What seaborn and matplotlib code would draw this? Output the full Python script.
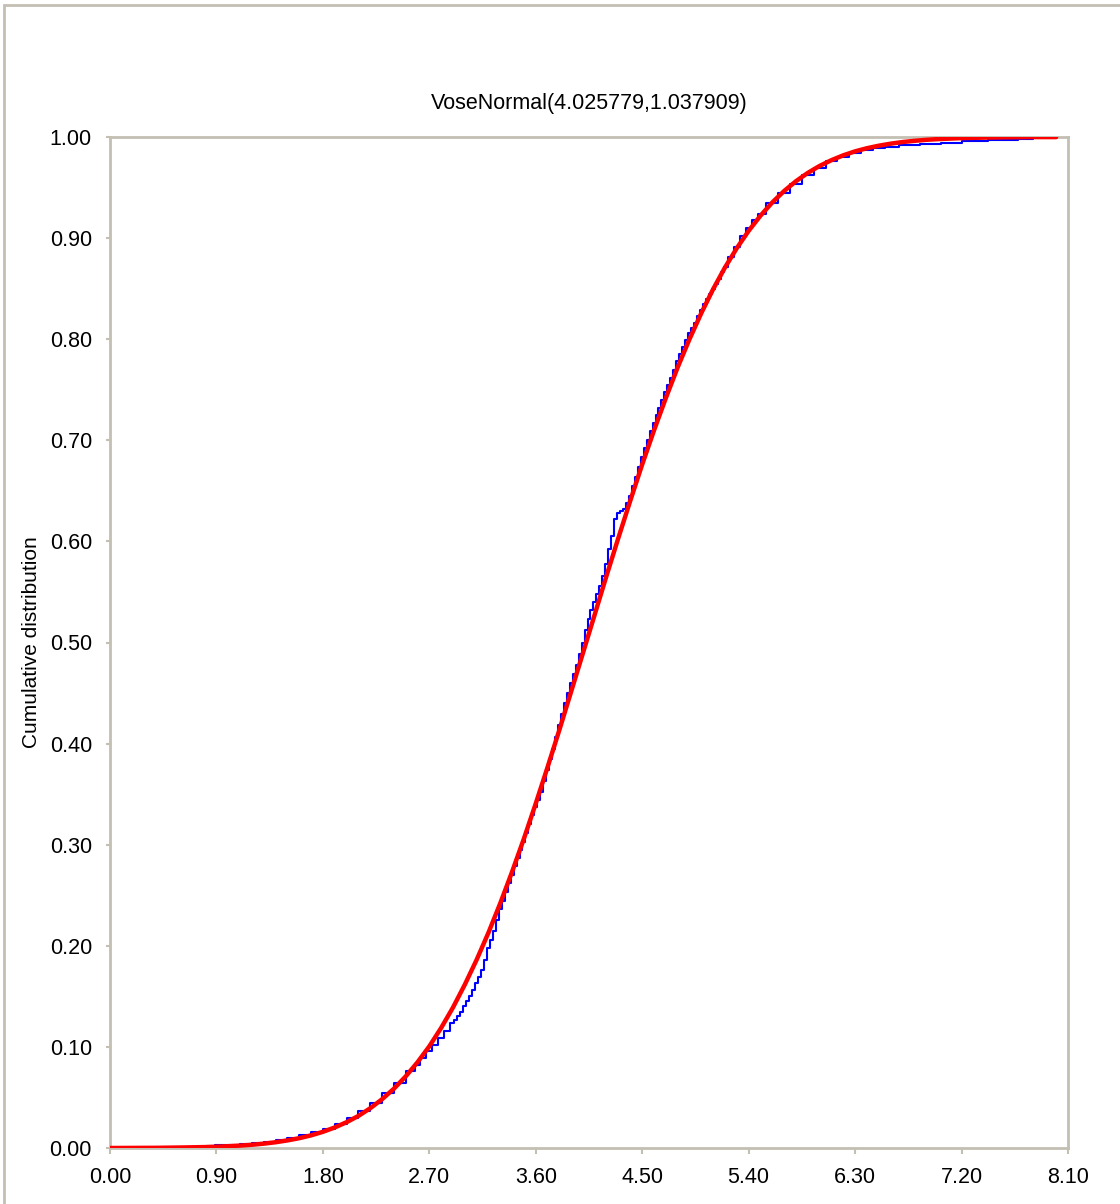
import matplotlib
matplotlib.use('Agg')
import matplotlib.pyplot as plt
import seaborn as sns
import numpy as np
import pandas as pd
from matplotlib.patches import Rectangle

sns.set_theme(style='white')
plt.rcParams['font.family'] = ['Liberation Sans', 'DejaVu Sans']

title = 'VoseNormal(4.025779,1.037909)'
y_label = 'Cumulative distribution'
x_ticks = [0.00, 0.90, 1.80, 2.70, 3.60, 4.50, 5.40, 6.30, 7.20, 8.10]
y_ticks = [0.00, 0.10, 0.20, 0.30, 0.40, 0.50, 0.60, 0.70, 0.80, 0.90, 1.00]

sample_x = [0.82, 0.95, 1.05, 1.15, 1.25, 1.35, 1.45, 1.55, 1.65, 1.75,
            1.85, 1.95, 2.05, 2.15, 2.25, 2.35, 2.45, 2.55, 2.60, 2.65,
            2.70, 2.75, 2.80, 2.85, 2.90, 2.925, 2.95, 2.975, 3.00, 3.025,
            3.05, 3.075, 3.10, 3.125, 3.15, 3.175, 3.20, 3.225, 3.25, 3.275,
            3.30, 3.325, 3.35, 3.375, 3.40, 3.425, 3.45, 3.475, 3.50, 3.525,
            3.55, 3.575, 3.60, 3.625, 3.65, 3.675, 3.70, 3.725, 3.75, 3.775,
            3.80, 3.825, 3.85, 3.875, 3.90, 3.925, 3.95, 3.975, 4.00, 4.025,
            4.05, 4.075, 4.10, 4.125, 4.15, 4.175, 4.20, 4.225, 4.25, 4.275,
            4.30, 4.325, 4.35, 4.375, 4.40, 4.425, 4.45, 4.475, 4.50, 4.525,
            4.55, 4.575, 4.60, 4.625, 4.65, 4.675, 4.70, 4.725, 4.75, 4.775,
            4.80, 4.825, 4.85, 4.875, 4.90, 4.925, 4.95, 4.975, 5.00, 5.025,
            5.05, 5.075, 5.10, 5.125, 5.15, 5.175, 5.20, 5.25, 5.30, 5.35,
            5.40, 5.45, 5.50, 5.60, 5.70, 5.80, 5.90, 6.00, 6.10, 6.20,
            6.30, 6.40, 6.50, 6.60, 6.75, 6.95, 7.10, 7.30, 7.55, 7.80]
sample_cdf = [0.002, 0.003, 0.003, 0.004, 0.005, 0.006, 0.008, 0.010, 0.013, 0.016,
              0.019, 0.024, 0.030, 0.037, 0.045, 0.054, 0.064, 0.076, 0.082, 0.089,
              0.096, 0.102, 0.109, 0.116, 0.124, 0.127, 0.131, 0.135, 0.140, 0.145,
              0.150, 0.156, 0.163, 0.169, 0.176, 0.186, 0.198, 0.206, 0.215, 0.226,
              0.236, 0.244, 0.253, 0.262, 0.270, 0.279, 0.287, 0.295, 0.303, 0.312,
              0.320, 0.329, 0.337, 0.344, 0.352, 0.363, 0.374, 0.385, 0.395, 0.407,
              0.418, 0.429, 0.440, 0.450, 0.460, 0.469, 0.478, 0.489, 0.500, 0.512,
              0.523, 0.532, 0.540, 0.548, 0.556, 0.566, 0.578, 0.592, 0.605, 0.622,
              0.628, 0.630, 0.632, 0.638, 0.645, 0.655, 0.664, 0.674, 0.683, 0.692,
              0.700, 0.709, 0.717, 0.725, 0.732, 0.740, 0.748, 0.755, 0.762, 0.770,
              0.778, 0.785, 0.792, 0.799, 0.806, 0.811, 0.816, 0.823, 0.829, 0.835,
              0.840, 0.845, 0.850, 0.855, 0.860, 0.866, 0.871, 0.881, 0.891, 0.902,
              0.910, 0.918, 0.924, 0.935, 0.945, 0.954, 0.962, 0.969, 0.976, 0.980,
              0.984, 0.987, 0.989, 0.990, 0.992, 0.993, 0.994, 0.996, 0.997, 0.998]

# fitted curve (red)
fit_x = [0.0, 0.2, 0.4, 0.6, 0.8, 0.9, 1.0, 1.1, 1.2, 1.3, 1.4, 1.5, 1.6, 1.7,
         1.8, 1.9, 2.0, 2.1, 2.2, 2.3, 2.4, 2.5, 2.6, 2.7, 2.8, 2.9, 3.0, 3.1,
         3.2, 3.3, 3.4, 3.5, 3.6, 3.7, 3.8, 3.9, 4.0, 4.1, 4.2, 4.3, 4.4, 4.5,
         4.6, 4.7, 4.8, 4.9, 5.0, 5.1, 5.2, 5.3, 5.4, 5.5, 5.6, 5.7, 5.8, 5.9,
         6.0, 6.1, 6.2, 6.3, 6.4, 6.5, 6.6, 6.7, 6.8, 6.9, 7.0, 7.2, 7.4, 7.6,
         7.8, 8.0]
fit_cdf = [0.0000, 0.0001, 0.0002, 0.0005, 0.0009, 0.0013, 0.0018, 0.0024, 0.0032,
           0.0043, 0.0057, 0.0075, 0.0097, 0.0125, 0.0160, 0.0203, 0.0255, 0.0317,
           0.0393, 0.0482, 0.0586, 0.0708, 0.0848, 0.1006, 0.1188, 0.1390, 0.1616,
           0.1862, 0.2130, 0.2422, 0.2733, 0.3061, 0.3408, 0.3768, 0.4137, 0.4518,
           0.4900, 0.5283, 0.5667, 0.6041, 0.6406, 0.6762, 0.7099, 0.7419, 0.7722,
           0.8001, 0.8259, 0.8496, 0.8710, 0.8901, 0.9072, 0.9222, 0.9353, 0.9466,
           0.9563, 0.9645, 0.9714, 0.9771, 0.9819, 0.9858, 0.9889, 0.9914, 0.9934,
           0.9950, 0.9962, 0.9972, 0.9979, 0.9989, 0.9994, 0.9997, 0.9999, 0.9999]

frame_col = '#c3bfb2'

fig = plt.figure(figsize=(11.2, 12.04), dpi=100)
ax = fig.add_axes([110 / 1120, 1 - 1148 / 1204, 958 / 1120, 1011 / 1204])

df_emp = pd.DataFrame({'x': sample_x, 'cdf': sample_cdf})
df_fit = pd.DataFrame({'x': fit_x, 'cdf': fit_cdf})

sns.lineplot(data=df_emp, x='x', y='cdf', ax=ax, color='#0000ff', lw=1.5,
             drawstyle='steps-mid', estimator=None, sort=False, zorder=2)
sns.lineplot(data=df_fit, x='x', y='cdf', ax=ax, color='#ff0000', lw=3.2,
             estimator=None, sort=False, zorder=3)

ax.set_xlim(0, 8.1)
ax.set_ylim(0, 1.0)
ax.set_xticks(x_ticks)
ax.set_xticklabels([f'{v:.2f}' for v in x_ticks])
ax.set_yticks(y_ticks)
ax.set_yticklabels([f'{v:.2f}' for v in y_ticks])
ax.set_xlabel('')
ax.set_ylabel(y_label, fontsize=15, color='#000000', labelpad=6)
ax.set_title(title, fontsize=15.5, color='#000000', pad=20)
ax.grid(False)

for sp in ax.spines.values():
    sp.set_visible(True)
    sp.set_color(frame_col)
    sp.set_linewidth(2)

ax.tick_params(axis='x', which='both', bottom=True, length=4.5, width=1.5,
               color=frame_col, labelsize=15.5, labelcolor='#000000', pad=9)
ax.tick_params(axis='y', which='both', left=True, length=3, width=1.5,
               color=frame_col, labelsize=15.5, labelcolor='#000000', pad=10)

# outer frame of the picture
fig.patches.append(Rectangle((4 / 1120, -0.05), 1.2, 1 - 5 / 1204 + 0.05,
                             transform=fig.transFigure, fill=False,
                             edgecolor=frame_col, lw=2))

plt.savefig('out.png', dpi=100, facecolor='white')
plt.close()
